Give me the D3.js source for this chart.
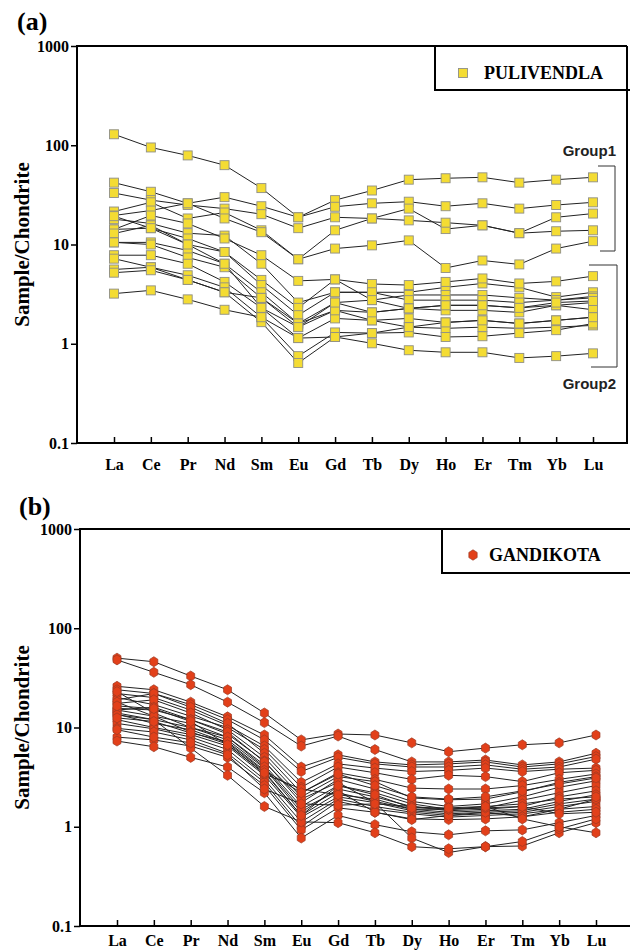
<!DOCTYPE html>
<html>
<head>
<meta charset="utf-8">
<script src="https://cdn.jsdelivr.net/npm/d3@7"></script>
<style>
  body { margin: 0; background: #fff; }
  svg { display: block; }
</style>
</head>
<body>
<div id="container"></div>
<script>
// REE labels along the x axis
const elements = ["La", "Ce", "Pr", "Nd", "Sm", "Eu", "Gd", "Tb", "Dy", "Ho", "Er", "Tm", "Yb", "Lu"];
const yTicks = [0.1, 1, 10, 100, 1000];

// (a) Pulivendla, chondrite normalised, Group1 (upper) samples
const puliGroup1 = [
  [129, 95, 79, 63, 37, 18.8, 28, 35, 45, 46.5, 47.5, 42, 45, 47.5],
  [42, 34, 26, 30, 24.3, 18.8, 24, 26, 27, 24.3, 26, 23, 25, 26.6],
  [33, 28, 25, 23, 20.2, 14.6, 18.8, 18.3, 23, 14.3, 15.6, 13, 18.8, 20.5],
  [21.5, 26.6, 18.3, 21, 13.9, 7.1, 13.9, 18.3, 17.5, 16.6, 15.6, 13, 13.6, 13.9],
  [19.6, 22, 26, 18.3, 13.3, 7.1, 9.1, 9.8, 11, 5.8, 6.9, 6.3, 9.1, 10.8]
];
// (a) Pulivendla, Group2 (lower) samples
const puliGroup2 = [
  [18, 16.3, 13, 12.3, 6.4, 2.6, 3.3, 3.3, 3.3, 3.7, 4.05, 3.7, 2.95, 3.3],
  [14.2, 19.6, 16.3, 11.5, 7.8, 4.3, 4.45, 4.0, 3.9, 4.2, 4.55, 4.05, 4.25, 4.8],
  [14.2, 14.6, 11.5, 8.4, 4.4, 2.3, 4.45, 2.75, 3.1, 3.1, 3.1, 2.9, 2.75, 3.0],
  [12.9, 15.6, 10, 8.4, 3.9, 1.94, 3.3, 3.3, 2.75, 2.75, 2.75, 2.6, 2.75, 2.9],
  [10.5, 10.5, 8.7, 6.4, 3.3, 1.6, 2.6, 2.75, 2.27, 2.44, 2.44, 2.3, 2.44, 2.6],
  [10.5, 10, 7.4, 5.9, 2.9, 1.47, 2.17, 2.07, 2.27, 2.17, 2.17, 2.07, 2.44, 2.2],
  [7.8, 7.8, 6.4, 4.2, 2.3, 1.14, 1.8, 1.72, 1.8, 1.64, 1.72, 1.6, 1.72, 1.85],
  [7.2, 5.9, 4.9, 3.7, 1.85, 0.75, 1.3, 1.28, 1.47, 1.43, 1.47, 1.43, 1.47, 1.53],
  [5.6, 5.9, 4.4, 3.3, 1.65, 0.64, 1.17, 1.28, 1.3, 1.17, 1.19, 1.28, 1.37, 1.6],
  [3.2, 3.45, 2.8, 2.2, 1.85, 1.14, 1.17, 1.01, 0.86, 0.82, 0.82, 0.72, 0.75, 0.8],
  [5.2, 5.5, 4.4, 3.3, 2.9, 1.6, 2.17, 1.72, 1.47, 1.64, 1.72, 1.6, 1.72, 1.85],
  [19.3, 14.6, 10, 6.4, 2.3, 1.47, 2.6, 2.07, 2.27, 2.44, 2.44, 2.3, 2.6, 2.7]
];

// (b) Gandikota samples
const gandikota = [
  [50, 46, 33, 24, 14, 7.5, 8.6, 8.4, 7.0, 5.7, 6.2, 6.7, 7.0, 8.4],
  [48, 36, 27, 18, 11.2, 6.5, 8.2, 6.0, 4.5, 4.5, 4.7, 4.2, 4.5, 5.5],
  [26, 24, 18, 12.8, 8.4, 4.0, 5.3, 4.5, 4.2, 4.3, 4.5, 4.0, 4.3, 5.1],
  [24, 22, 17, 12, 7.5, 3.6, 5.0, 4.3, 4.0, 4.0, 4.2, 3.8, 4.0, 4.8],
  [22, 20, 15, 10.5, 6.5, 2.8, 4.3, 3.9, 3.6, 3.7, 3.9, 3.6, 3.8, 3.9],
  [20, 17, 13, 10, 6.0, 2.5, 4.0, 3.5, 3.0, 3.3, 3.2, 2.85, 3.5, 3.7],
  [19, 22, 16, 11, 5.5, 2.2, 3.5, 3.0, 2.45, 2.4, 2.4, 2.6, 3.0, 3.4],
  [17.5, 19, 14, 9.5, 5.0, 2.0, 3.2, 2.85, 1.95, 1.87, 1.9, 2.25, 2.8, 3.2],
  [15.6, 15, 12, 8.6, 4.6, 1.75, 3.0, 2.4, 1.8, 1.6, 1.7, 2.0, 2.5, 2.9],
  [15, 13, 11, 8, 4.2, 1.6, 2.6, 2.2, 1.7, 1.5, 1.55, 1.85, 2.2, 2.6],
  [14, 12, 10, 7.5, 3.9, 1.4, 2.4, 2.0, 1.6, 1.45, 1.5, 1.6, 2.0, 2.3],
  [13.6, 11, 9.5, 7, 3.6, 1.3, 2.2, 1.8, 1.5, 1.4, 1.45, 1.5, 1.8, 2.1],
  [12, 10, 8.5, 6.5, 3.3, 1.25, 2.0, 1.75, 1.45, 1.35, 1.4, 1.45, 1.7, 1.9],
  [11, 9.7, 8, 6, 3.0, 1.12, 1.9, 1.6, 1.4, 1.3, 1.35, 1.4, 1.6, 1.8],
  [9.8, 9, 7.5, 5.5, 2.8, 1.0, 1.8, 1.5, 1.35, 1.25, 1.3, 1.35, 1.5, 1.6],
  [8, 7.5, 6.5, 5, 2.6, 0.93, 1.55, 1.4, 1.2, 1.18, 1.2, 1.26, 1.4, 1.5],
  [7.3, 6.4, 5, 4, 2.2, 0.77, 1.3, 1.05, 0.89, 0.83, 0.91, 0.93, 1.1, 1.3],
  [15, 16, 12, 9, 4.5, 1.9, 2.8, 1.75, 0.77, 0.55, 0.63, 0.64, 0.87, 1.1],
  [13.4, 12, 6.2, 3.3, 1.6, 1.12, 1.1, 0.87, 0.63, 0.6, 0.63, 0.71, 0.95, 1.2],
  [23, 14, 10, 8, 4.0, 1.5, 2.3, 1.4, 1.18, 1.3, 1.4, 1.26, 1.5, 1.9],
  [18, 13, 9, 6.8, 3.4, 2.4, 2.1, 1.9, 1.5, 1.5, 1.6, 1.7, 1.9, 2.0],
  [12.5, 11.5, 8.8, 7.2, 3.7, 2.2, 3.4, 2.6, 2.0, 1.9, 2.0, 2.3, 2.7, 3.1],
  [9.5, 8, 7, 5.3, 2.4, 1.7, 1.65, 1.7, 1.6, 1.5, 1.55, 1.6, 1.35, 1.4],
  [16.5, 15.5, 11.5, 6.7, 3.5, 1.3, 2.6, 2.1, 1.55, 1.55, 1.6, 1.2, 1.0, 0.87]
];

let w = 630;
let h = 950;
let svg = d3.select("#container")
  .append("svg")
  .attr("width", w)
  .attr("height", h);

const serif = "'Liberation Serif', 'Times New Roman', serif";
const sans = "'Liberation Sans', Arial, sans-serif";

// pointy-top hexagon marker
function hexPath(r) {
  let pts = d3.range(6).map(i => {
    let a = Math.PI / 3 * i - Math.PI / 2;
    return [r * Math.cos(a) * 0.92, r * Math.sin(a)];
  });
  return "M" + pts.map(p => p.join(",")).join("L") + "Z";
}

function drawPanel(p) {
  let x = d3.scalePoint().domain(elements).range([p.left + 37, p.right - 34]);
  let y = d3.scaleLog().domain([0.1, 1000]).range([p.bottom, p.top]);

  let g = svg.append("g");

  // panel letter
  g.append("text")
    .attr("x", p.labelX).attr("y", p.labelY)
    .style("font-family", serif).style("font-weight", "bold").style("font-size", "26px")
    .text(p.letter);

  // axis title
  g.append("text")
    .attr("transform", "translate(" + 29 + "," + ((p.top + p.bottom) / 2) + ") rotate(-90)")
    .attr("text-anchor", "middle")
    .style("font-family", serif).style("font-weight", "bold").style("font-size", "21px")
    .text("Sample/Chondrite");

  // y axis
  let yAxis = g.append("g")
    .attr("transform", "translate(" + p.left + ",0)")
    .call(d3.axisLeft(y).tickValues(yTicks).tickFormat(d => String(d)).tickSize(6).tickPadding(2));
  yAxis.select(".domain").remove();
  yAxis.selectAll("line").attr("stroke", "#000").attr("stroke-width", 1.5);
  yAxis.selectAll("text")
    .style("font-family", serif).style("font-weight", "bold").style("font-size", "16px").attr("fill", "#000");

  // x axis, ticks pointing inward
  let xAxis = g.append("g")
    .attr("transform", "translate(0," + p.bottom + ")")
    .call(d3.axisBottom(x).tickSizeInner(-6).tickSizeOuter(0).tickPadding(p.xPad));
  xAxis.select(".domain").remove();
  xAxis.selectAll("line").attr("stroke", "#000").attr("stroke-width", 1.5);
  xAxis.selectAll("text")
    .style("font-family", serif).style("font-weight", "bold").style("font-size", "16px").attr("fill", "#000");

  // frame
  g.append("path")
    .attr("d", "M" + p.right + "," + p.top + "H" + p.left + "V" + p.bottom + "H" + p.right + (p.closeRight ? "V" + p.top : ""))
    .attr("fill", "none").attr("stroke", "#000").attr("stroke-width", 2);

  let line = d3.line()
    .x((d, i) => x(elements[i]))
    .y(d => y(d));

  g.selectAll("path.ree")
    .data(p.series)
    .enter()
    .append("path")
    .attr("class", "ree")
    .attr("d", line)
    .attr("fill", "none")
    .attr("stroke", "#222")
    .attr("stroke-width", 1);

  let pts = [];
  p.series.forEach(s => s.forEach((v, i) => pts.push({ el: elements[i], v: v })));

  if (p.marker == "square") {
    g.selectAll("rect.pt")
      .data(pts)
      .enter()
      .append("rect")
      .attr("class", "pt")
      .attr("x", d => x(d.el) - 4.5).attr("y", d => y(d.v) - 4.5)
      .attr("width", 9).attr("height", 9)
      .attr("fill", p.fill).attr("stroke", p.stroke).attr("stroke-width", 0.9);
  } else {
    g.selectAll("path.pt")
      .data(pts)
      .enter()
      .append("path")
      .attr("class", "pt")
      .attr("d", hexPath(5))
      .attr("transform", d => "translate(" + x(d.el) + "," + y(d.v) + ")")
      .attr("fill", p.fill).attr("stroke", p.stroke).attr("stroke-width", 0.7);
  }

  // legend box
  let lg = p.legend;
  g.append("path")
    .attr("d", "M" + lg.x + "," + p.top + "V" + lg.bottom + "H" + (w + 5))
    .attr("fill", "none").attr("stroke", "#000").attr("stroke-width", 2);
  if (p.marker == "square") {
    g.append("rect")
      .attr("x", lg.mx - 4.5).attr("y", lg.my - 4.5).attr("width", 9).attr("height", 9)
      .attr("fill", p.fill).attr("stroke", p.stroke).attr("stroke-width", 0.9);
  } else {
    g.append("path")
      .attr("d", hexPath(5.2))
      .attr("transform", "translate(" + lg.mx + "," + lg.my + ")")
      .attr("fill", p.fill).attr("stroke", p.stroke).attr("stroke-width", 0.7);
  }
  g.append("text")
    .attr("x", lg.tx).attr("y", lg.my + 6)
    .style("font-family", serif).style("font-weight", "bold").style("font-size", "18px")
    .text(lg.name);

  return g;
}

let gA = drawPanel({
  letter: "(a)", labelX: 17, labelY: 30,
  left: 77, right: 627, top: 46, bottom: 443, closeRight: true, xPad: 16,
  series: puliGroup1.concat(puliGroup2),
  marker: "square", fill: "#f4dc33", stroke: "#8f8f86",
  legend: { x: 435, bottom: 90, mx: 463, my: 73, tx: 484, name: "PULIVENDLA" }
});

// group brackets in panel (a)
gA.append("path")
  .attr("d", "M598,166H615V251H600")
  .attr("fill", "none").attr("stroke", "#333").attr("stroke-width", 1);
gA.append("path")
  .attr("d", "M589,265H617V367H591")
  .attr("fill", "none").attr("stroke", "#333").attr("stroke-width", 1);
gA.append("text")
  .attr("x", 616).attr("y", 156).attr("text-anchor", "end")
  .style("font-family", sans).style("font-weight", "bold").style("font-size", "15px").attr("fill", "#222")
  .text("Group1");
gA.append("text")
  .attr("x", 616).attr("y", 389).attr("text-anchor", "end")
  .style("font-family", sans).style("font-weight", "bold").style("font-size", "15px").attr("fill", "#222")
  .text("Group2");

drawPanel({
  letter: "(b)", labelX: 19, labelY: 515,
  left: 80, right: 630, top: 529, bottom: 926, closeRight: false, xPad: 9,
  series: gandikota,
  marker: "hex", fill: "#e2401a", stroke: "#9c3a22",
  legend: { x: 442, bottom: 573, mx: 473, my: 555, tx: 489, name: "GANDIKOTA" }
});
</script>
</body>
</html>
